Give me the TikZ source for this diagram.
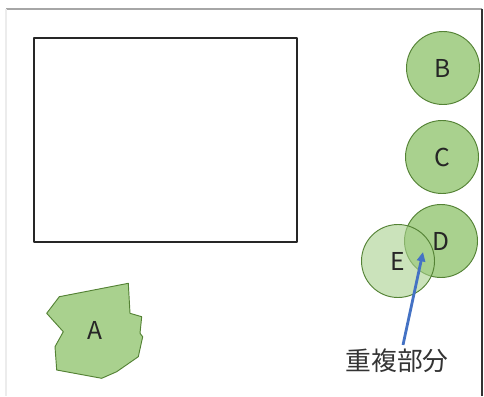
\documentclass[tikz,border=0pt]{standalone}
\usepackage{fontspec}
\setmainfont{Noto Sans CJK JP}
\definecolor{mygreen}{RGB}{169,209,142}
\definecolor{mydarkgreen}{RGB}{84,130,53}
\definecolor{myblue}{RGB}{68,114,196}
\usetikzlibrary{arrows.meta}

\begin{document}
\begin{tikzpicture}[x=0.03cm,y=-0.03cm,line join=round]
	\tikzstyle{area}=[circle,draw=mydarkgreen,fill=mygreen,line width=0.8pt,minimum size=73*0.03cm,inner sep=0pt,font=\fontsize{21}{21}\selectfont,text=black!85];
	\tikzstyle{lbl}=[font=\fontsize{21}{21}\selectfont,text=black!85];
	\useasboundingbox (0,0) rectangle (484,396);
	% frame
	\coordinate (tl) at (6,9);
	\coordinate (tr) at (482,9);
	\coordinate (br) at (482,396);
	\coordinate (bl) at (6,396);
	\draw[gray!70,line width=1.5pt] (tl) -- (tr);
	\draw[black!80,line width=1pt] (tr) -- (br);
	\draw[gray!15,line width=1pt] (tl) -- (bl);
	% building
	\node[draw=black!85,line width=1.2pt,minimum width=263*0.03cm,minimum height=204*0.03cm,inner sep=0pt] (room) at (165.5,140) {};
	% region A
	\draw[mydarkgreen,fill=mygreen,line width=0.8pt] (59.3,296.7) -- (128.3,283.3) -- (130,313.3) -- (141.7,316.7) -- (140,333.3) -- (142.7,336.7) -- (138.3,356.7) -- (116.7,371.7) -- (101.7,378.3) -- (56.7,370) -- (55,346.7) -- (63.3,331.7) -- (46.7,313.3) -- cycle;
	\node[lbl] (a) at (95,330) {A};
	% circles
	\node[area] (b) at (443,68)  {B};
	\node[area] (c) at (442,157) {C};
	\node[area] (d) at (441,241) {};
	\node[area,fill opacity=0.6,draw opacity=1] (e) at (398,261) {};
	\node[lbl] (dl) at (d.center) {D};
	\node[lbl] (el) at (e.center) {E};
	% overlap label
	\node[lbl,text=black!80,font=\fontsize{22}{22}\selectfont] (lap) at (397,361) {重複部分};
	\coordinate (tip) at (423,252);
	\draw[-{Triangle[length=8pt,width=7pt]},myblue,line width=2.4pt] ([xshift=6*0.03cm]lap.north) -- (tip);
\end{tikzpicture}
\end{document}
